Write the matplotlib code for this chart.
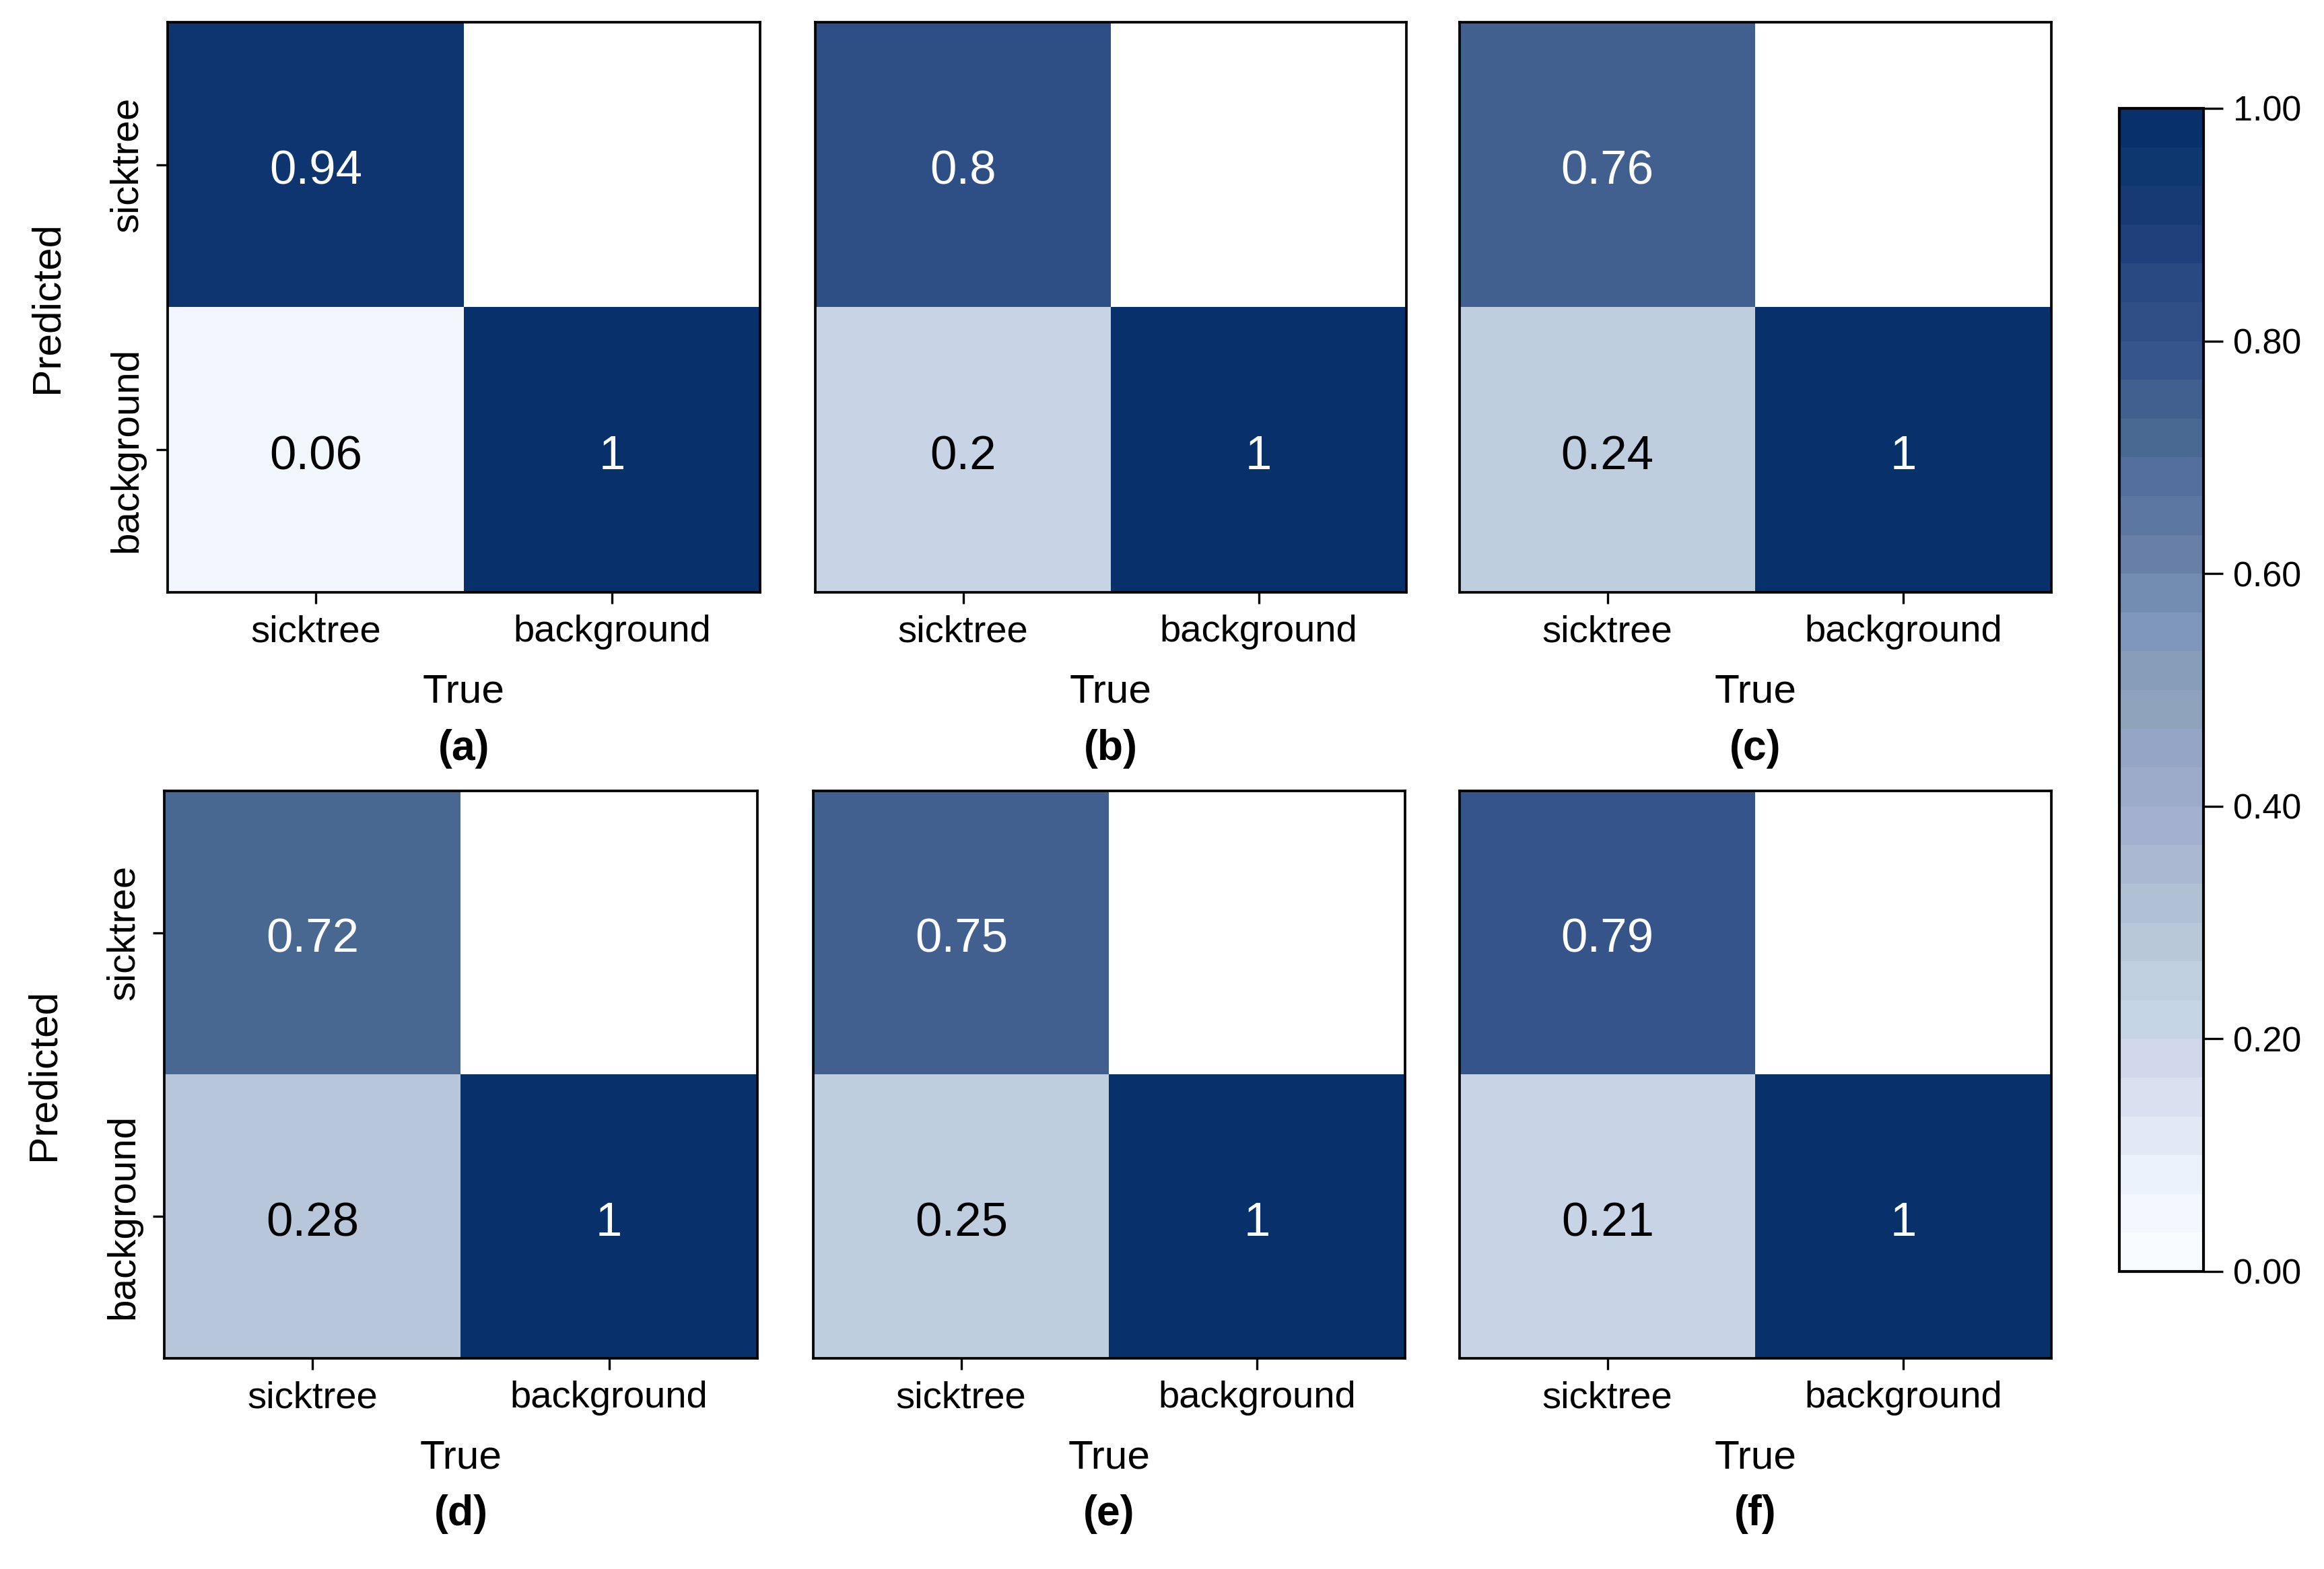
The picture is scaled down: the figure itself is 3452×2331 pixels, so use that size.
"""
Matrices de confusión (sicktree / background) para seis modelos,
con barra de color compartida a la derecha.
"""

import matplotlib
matplotlib.use('Agg')
import matplotlib.pyplot as plt
import numpy as np
from matplotlib.colors import LinearSegmentedColormap, Normalize
from matplotlib.cm import ScalarMappable

plt.rcParams['font.family'] = ['Liberation Sans', 'DejaVu Sans']

# Datos
clases = ['sicktree', 'background']
paneles = ['(a)', '(b)', '(c)', '(d)', '(e)', '(f)']
# filas = Predicted (sicktree, background), columnas = True (sicktree, background)
# la celda superior derecha vale 0 y aparece en blanco
m_a = [[0.94, 0], [0.06, 1]]
m_b = [[0.8, 0], [0.2, 1]]
m_c = [[0.76, 0], [0.24, 1]]
m_d = [[0.72, 0], [0.28, 1]]
m_e = [[0.75, 0], [0.25, 1]]
m_f = [[0.79, 0], [0.21, 1]]
matrices = [m_a, m_b, m_c, m_d, m_e, m_f]
cbar_ticks = [0.0, 0.2, 0.4, 0.6, 0.8, 1.0]

# Colormap discreto (30 niveles)
anclas = [(0.00, '#F7FCFF'), (0.06, '#EEF5FD'), (0.12, '#DEE4F0'),
          (0.17, '#D3D8EC'), (0.20, '#C8D6E7'), (0.25, '#BDCDDE'),
          (0.30, '#B3C3D5'), (0.37, '#A5B3CF'), (0.45, '#95A5C5'),
          (0.50, '#8BA1B7'), (0.55, '#7F98BA'), (0.62, '#6880A8'),
          (0.68, '#5670A0'), (0.72, '#4A6A92'), (0.76, '#415F8F'),
          (0.80, '#33538A'), (0.86, '#2A4A82'), (0.90, '#1F3F7A'),
          (0.94, '#133A72'), (1.00, '#08306B')]
cmap = LinearSegmentedColormap.from_list('azules', anclas, N=30)
cmap.set_bad('white')
norm = Normalize(vmin=0, vmax=1)

W, H = 3452, 2331
fig = plt.figure(figsize=(W / 300, H / 300), dpi=300)

# posiciones en pixeles: (izq, der, arriba, abajo)
cajas = [(249, 1129, 33, 880), (1211, 2089, 33, 880), (2168, 3047, 33, 880),
         (244, 1125, 1175, 2018), (1208, 2087, 1175, 2018), (2168, 3047, 1175, 2018)]

for i, (mat, caja, etiqueta) in enumerate(zip(matrices, cajas, paneles)):
    x0, x1, y0, y1 = caja
    ax = fig.add_axes([x0 / W, 1 - y1 / H, (x1 - x0) / W, (y1 - y0) / H])
    datos = np.array(mat, dtype=float)
    mostrar = np.ma.masked_where(datos == 0, datos)
    ax.imshow(mostrar, cmap=cmap, norm=norm, aspect='auto')
    for r in range(2):
        for c in range(2):
            v = datos[r, c]
            if v == 0:
                continue
            color = 'white' if v > 0.5 else 'black'
            ax.annotate(f'{v:g}', (c, r), xytext=(0, -2.6),
                        textcoords='offset points', ha='center', va='center',
                        fontsize=17, color=color)
    ax.set_xticks([0, 1], clases, fontsize=13.5)
    if i % 3 == 0:
        ax.set_yticks([0, 1], clases, fontsize=14, rotation=90, va='center')
        ax.set_ylabel('Predicted', fontsize=14.5, labelpad=15.5)
    else:
        ax.set_yticks([])
    ax.tick_params(length=4, width=0.8, pad=4)
    ax.set_xlabel('True', fontsize=14.5, labelpad=8.5)
    for s in ax.spines.values():
        s.set_linewidth(0.9)
    ax.text(0.5, -0.275, etiqueta, transform=ax.transAxes, ha='center',
            va='center', fontsize=15, fontweight='bold')

# Barra de color
cax = fig.add_axes([3148 / W, 1 - 1889 / H, 125 / W, 1728 / H])
sm = ScalarMappable(norm=norm, cmap=cmap)
cb = fig.colorbar(sm, cax=cax, ticks=cbar_ticks)
cb.ax.set_yticklabels([f'{t:.2f}' for t in cbar_ticks], fontsize=12.5)
cb.ax.tick_params(length=7, width=0.8)
cb.outline.set_linewidth(1.0)

plt.savefig('out.png', dpi=300)
